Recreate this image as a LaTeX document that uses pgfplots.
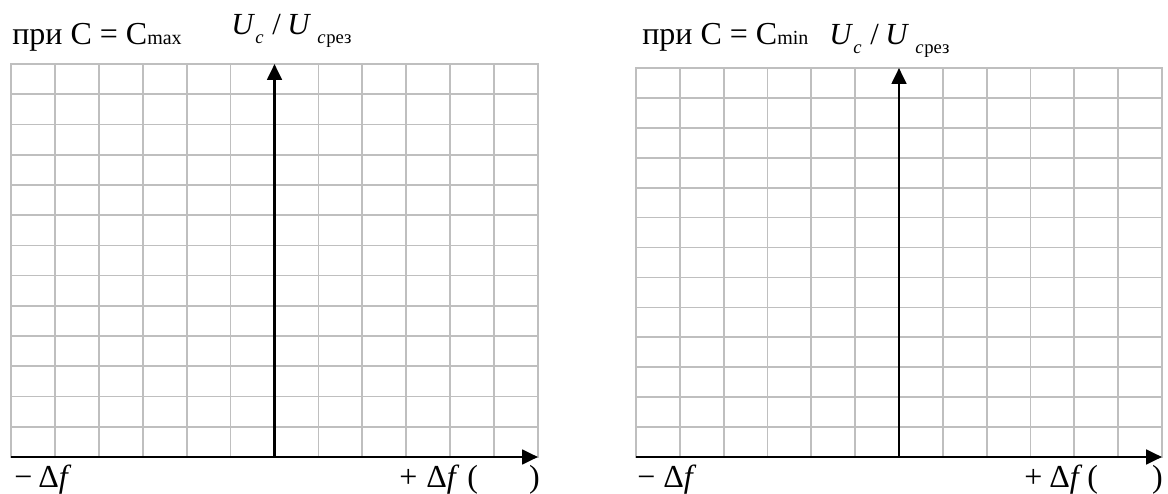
\documentclass[border=0pt]{standalone}
\usepackage{pgfplots}
\pgfplotsset{compat=1.18}
\usepackage{fontspec}
\setmainfont{Liberation Serif}
\usetikzlibrary{arrows.meta}
\definecolor{gridgray}{RGB}{191,191,191}

\pgfplotsset{blank grid/.style={
  scale only axis, anchor=south west,
  xmin=-6, xmax=6, ymin=0, ymax=13,
  xtick={-6,...,6}, ytick={0,...,13},
  xticklabels={}, yticklabels={},
  major tick length=0pt,
  grid=major, grid style={gridgray, line width=1.3pt},
  axis line style={gridgray, line width=1.3pt},
  clip=false},
  axarrow/.style={black, line width=2.1pt, -{Triangle[length=12pt,width=11pt]}}}

% U_c / U_c рез, baseline at (#1,#2)
\newcommand\ulab[2]{%
  \node[anchor=base west,inner sep=0,font=\fontsize{23}{26}\selectfont\itshape] at (#1,#2) {U};
  \node[anchor=base west,inner sep=0,font=\fontsize{14}{16}\selectfont\itshape] at (#1+24,#2-9) {c};
  \node[anchor=base west,inner sep=0,font=\fontsize{23}{26}\selectfont] at (#1+41,#2) {/};
  \node[anchor=base west,inner sep=0,font=\fontsize{23}{26}\selectfont\itshape] at (#1+56,#2) {U};
  \node[anchor=base west,inner sep=0,font=\fontsize{14}{16}\selectfont\itshape] at (#1+86,#2-9) {c};
  \node[anchor=base west,inner sep=0,font=\fontsize{14}{16}\selectfont] at (#1+95,#2-9) {рез};
}

\begin{document}
\begin{tikzpicture}[x=0.75pt,y=0.75pt]
\path[use as bounding box] (0,0) rectangle (1168,493);

% left panel (grid 11..538 px, 64..457 px from top)
\begin{axis}[blank grid, at={(8.25pt,27pt)}, width=395.25pt, height=294.75pt]
\addplot[axarrow] coordinates {(-6,0) (6,0)};
\addplot[axarrow] coordinates {(0,0) (0,13)};
\end{axis}

% right panel (grid 636..1162 px, 68..457 px from top)
\begin{axis}[blank grid, at={(477pt,27pt)}, width=394.5pt, height=291.75pt]
\addplot[axarrow] coordinates {(-6,0) (6,0)};
\addplot[axarrow] coordinates {(0,0) (0,13)};
\end{axis}

% titles
\node[anchor=base west,inner sep=0,font=\fontsize{24}{28}\selectfont] at (12,448)
  {при C = C{\fontsize{15}{18}\selectfont max}};
\node[anchor=base west,inner sep=0,font=\fontsize{24}{28}\selectfont] at (642,448)
  {при C = C{\fontsize{15}{18}\selectfont min}};
\ulab{231}{458}
\ulab{829}{448}

% bottom labels
\begin{scope}[every node/.style={anchor=base west,inner sep=0,font=\fontsize{24}{28}\selectfont}]
\node at (14,6) {−};
\node at (38,6) {Δ\textit{f}};
\node at (399,6) {+};
\node at (426,6) {Δ\textit{f}};
\node at (467,6) {(};
\node[anchor=base east] at (540,6) {)};
\node at (637,6) {−};
\node at (663,6) {Δ\textit{f}};
\node at (1024,6) {+};
\node at (1049,6) {Δ\textit{f}};
\node at (1087,6) {(};
\node[anchor=base east] at (1163,6) {)};
\end{scope}
\end{tikzpicture}
\end{document}
